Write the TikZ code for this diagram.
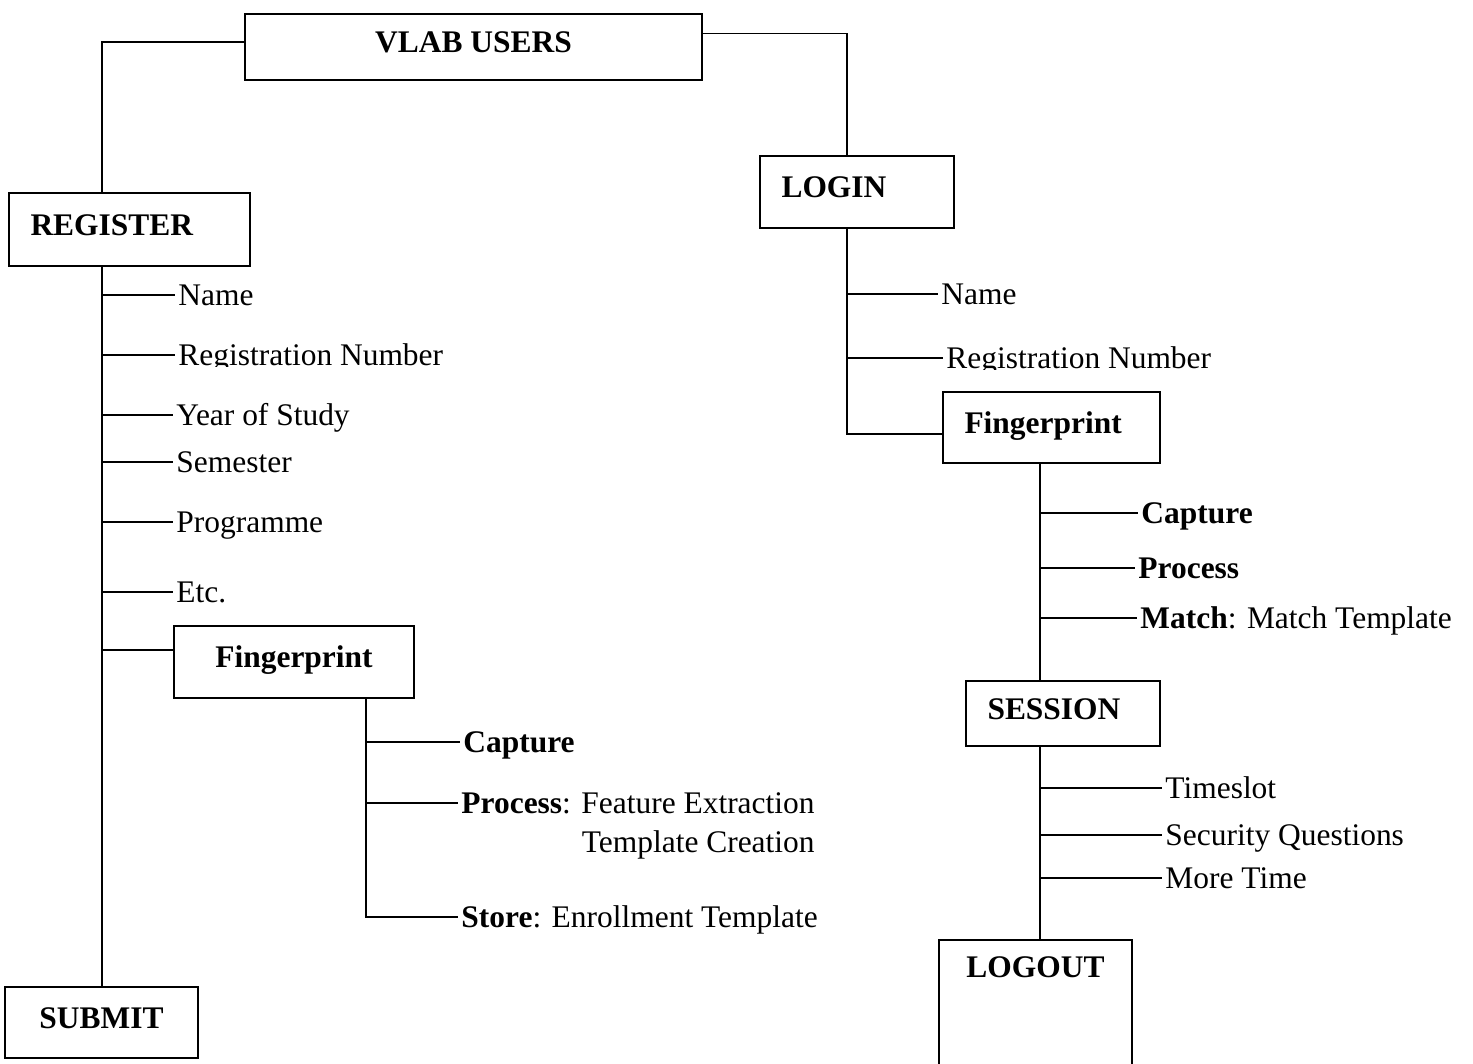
\documentclass[tikz,border=0pt]{standalone}
\usepackage{fontspec}
\setmainfont{Liberation Serif}
\usepackage{tikz}

\begin{document}
\begin{tikzpicture}[x=0.02cm, y=-0.02cm, line width=1.1pt,
	every node/.style={font=\fontsize{17.9}{21}\selectfont},
	box/.style={draw, line width=1.3pt, inner ysep=0pt, text height=0.441cm, text depth=0.22cm, font=\fontsize{17.9}{21}\selectfont\bfseries},
	padbox/.style={box, align=left, inner xsep=0.43cm, text width=#1},
	item/.style={anchor=base west, inner xsep=0.05cm, inner ysep=0pt, text height=0.441cm, text depth=0.038cm}]
	%%%%% START %%%%%
	\useasboundingbox (0,0) rectangle (1473,1063);
	\clip (0,0) rectangle (1473,1063);
	
	% boxes
	\node[box, minimum width=9.14cm, minimum height=1.32cm] (users) at (473.5,47) {VLAB USERS};
	\node[padbox=3.96cm, minimum height=1.46cm] (reg) at (129.5,229.5) {REGISTER};
	\node[padbox=3.02cm, minimum height=1.44cm] (login) at (857,192) {LOGIN};
	\node[box, minimum width=4.8cm, minimum height=1.44cm] (fpl) at (294,662) {Fingerprint};
	\node[padbox=3.48cm, minimum height=1.42cm] (fpr) at (1051.5,427.5) {Fingerprint};
	\node[padbox=3.02cm, minimum height=1.3cm] (sess) at (1063,713.5) {SESSION};
	\node[box, minimum width=3.86cm, minimum height=1.42cm] (submit) at (101.5,1022.5) {SUBMIT};
	\node[box, minimum width=3.86cm, text height=0.74cm, text depth=2cm, anchor=north] (logout) at (1035.5,939) {LOGOUT};
	
	% register items
	\node[item] (n1) at (175,305) {Name};
	\begin{scope}
		\clip (0,0) rectangle (1473,366.5);
		\node[item] (r1) at (175,365.5) {Registration Number};
	\end{scope}
	\node[item] (y1) at (173,425) {Year of Study};
	\node[item] (s1) at (173,472) {Semester};
	\node[item] (p1) at (173,532) {Programme};
	\node[item] (e1) at (173,602) {Etc.};
	
	\node[item] (cap1) at (460,752) {\textbf{Capture}};
	\node[item] (pr1) at (458,813) {\textbf{Process}: Feature Extraction};
	\node[item, anchor=base east] (tc1) at ([yshift=-0.78cm]pr1.base east) {Template Creation};
	\node[item] (st1) at (458,927) {\textbf{Store}: Enrollment Template};
	
	% login items
	\node[item] (n2) at (938,304) {Name};
	\begin{scope}
		\clip (0,0) rectangle (1473,369);
		\node[item] (r2) at (943,368.5) {Registration Number};
	\end{scope}
	\node[item] (cap2) at (1138,523) {\textbf{Capture}};
	\node[item] (pr2) at (1135,578) {\textbf{Process}};
	\node[item] (ma2) at (1137,628) {\textbf{Match}: Match Template};
	
	\node[item] (ts) at (1162,798) {Timeslot};
	\node[item] (sq) at (1162,845) {Security Questions};
	\node[item] (mt) at (1162,888) {More Time};
	
	% spines
	\coordinate (lsp) at (102,0);
	\coordinate (rsp) at (847,0);
	\coordinate (fsp) at (366,0);
	\coordinate (msp) at (1040,0);
	
	\draw ([yshift=0.1cm]users.west) -| (reg.north -| lsp);
	\draw ([yshift=0.27cm]users.east) -| (login.north -| rsp);
	
	\draw (reg.south -| lsp) -- (submit.north -| lsp);
	\draw (lsp |- n1.west) -- (n1.west);
	\draw (lsp |- r1.west) -- (r1.west);
	\draw (lsp |- y1.west) -- (y1.west);
	\draw (lsp |- s1.west) -- (s1.west);
	\draw (lsp |- p1.west) -- (p1.west);
	\draw (lsp |- e1.west) -- (e1.west);
	\coordinate (fpltap) at ([yshift=0.24cm]fpl.west);
	\draw (lsp |- fpltap) -- (fpltap);
	
	\draw (fpl.south -| fsp) |- (st1.west);
	\draw (fsp |- cap1.west) -- (cap1.west);
	\draw (fsp |- pr1.west) -- (pr1.west);
	
	\draw (login.south -| rsp) |- ([yshift=-0.13cm]fpr.west);
	\draw (rsp |- n2.west) -- (n2.west);
	\draw (rsp |- r2.west) -- (r2.west);
	
	\draw (fpr.south -| msp) -- (sess.north -| msp);
	\draw (msp |- cap2.west) -- (cap2.west);
	\draw (msp |- pr2.west) -- (pr2.west);
	\draw (msp |- ma2.west) -- (ma2.west);
	
	\draw (sess.south -| msp) -- (logout.north -| msp);
	\draw (msp |- ts.west) -- (ts.west);
	\draw (msp |- sq.west) -- (sq.west);
	\draw (msp |- mt.west) -- (mt.west);
	%%%%% END %%%%%
\end{tikzpicture}
\end{document}
